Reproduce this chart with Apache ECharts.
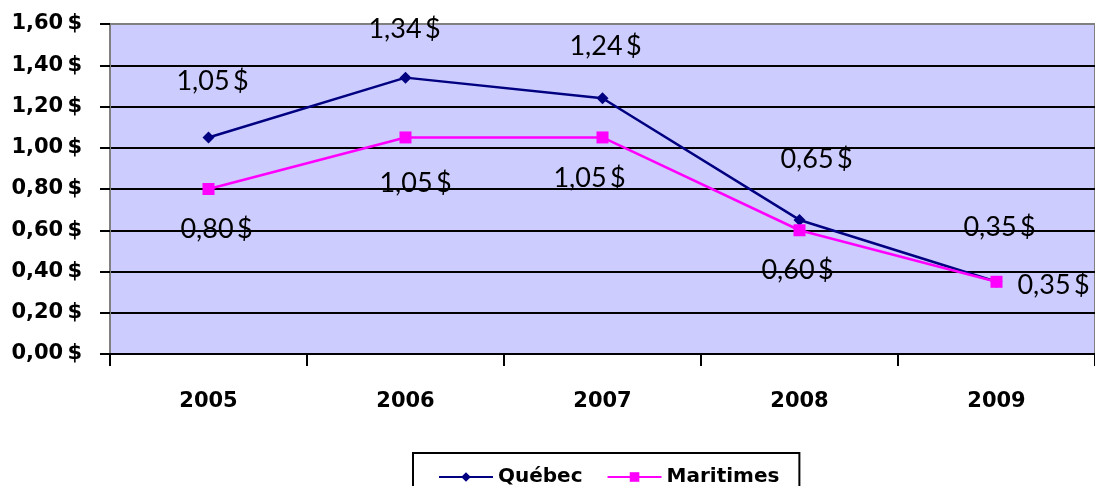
<!DOCTYPE html>
<html>
<head>
<meta charset="utf-8">
<script src="https://cdn.jsdelivr.net/npm/echarts@6/dist/echarts.min.js"></script>
<style>
html,body{margin:0;padding:0;background:#fff;}
#c{width:1095px;height:486px;}
</style>
</head>
<body>
<div id="c"></div>
<script>
var categories = ['2005', '2006', '2007', '2008', '2009'];
var quebec = [1.05, 1.34, 1.24, 0.65, 0.35];
var maritimes = [0.80, 1.05, 1.05, 0.60, 0.35];
var yTicks = [0, 0.2, 0.4, 0.6, 0.8, 1.0, 1.2, 1.4, 1.6];

// label offsets (layout only)
var qOff = [[4,-56],[-1,-48],[3,-52],[17,-61],[3,-55]];
var mOff = [[8,40],[10,46],[-13,41],[-2,40],[57,3]];

function money(v){ return v.toFixed(2).replace('.', ',') + '\u2009$'; }

var labelFont = {color:'#000', fontFamily:'Lato', fontSize:27, fontWeight:'normal'};

function build(vals, offs){
  return vals.map(function(v,i){
    return {value:v, label:Object.assign({show:true, position:'inside', offset:offs[i], formatter:function(p){return money(p.value);}}, labelFont)};
  });
}

var chart = echarts.init(document.getElementById('c'), null, {renderer:'canvas'});
chart.setOption({
  animation:false,
  backgroundColor:'#fff',
  grid:{left:110, right:-5, top:24, bottom:132, show:true, backgroundColor:'#CCCCFF', borderColor:'#808080', borderWidth:2},
  legend:{
    left:413, top:453,
    padding:[14,20,14,25],
    itemGap:24, itemWidth:54, itemHeight:12,
    backgroundColor:'#fff', borderColor:'#000', borderWidth:2,
    textStyle:{fontFamily:'DejaVu Sans', fontWeight:'bold', fontSize:20, color:'#000'},
    data:['Québec','Maritimes']
  },
  xAxis:{
    type:'category', data:categories, boundaryGap:true,
    axisLine:{show:true, lineStyle:{color:'#000', width:2}},
    axisTick:{show:true, length:12, lineStyle:{color:'#000', width:2}},
    axisLabel:{margin:37, fontFamily:'DejaVu Sans', fontWeight:'bold', fontSize:21, color:'#000'}
  },
  yAxis:{
    type:'value', min:0, max:1.6, interval:0.2,
    axisLine:{show:true, lineStyle:{color:'#808080', width:2}},
    axisTick:{show:true, length:10, lineStyle:{color:'#000', width:2}},
    axisLabel:{margin:28, fontFamily:'DejaVu Sans', fontWeight:'bold', fontSize:21, color:'#000',
      formatter:function(v){ return v.toFixed(2).replace('.', ',') + '\u2009$'; }},
    splitLine:{show:true, lineStyle:{color:['#000','#000','#000','#000','#000','#000','#000','#000','#808080'], width:2}}
  },
  series:[
    {name:'Québec', type:'line', data:build(quebec,qOff), symbol:'diamond', symbolSize:12,
      lineStyle:{color:'#000080', width:2.5}, itemStyle:{color:'#000080'}, z:2},
    {name:'Maritimes', type:'line', data:build(maritimes,mOff), symbol:'rect', symbolSize:12,
      lineStyle:{color:'#FF00FF', width:2.5}, itemStyle:{color:'#FF00FF'}, z:3}
  ]
});
</script>
</body>
</html>
